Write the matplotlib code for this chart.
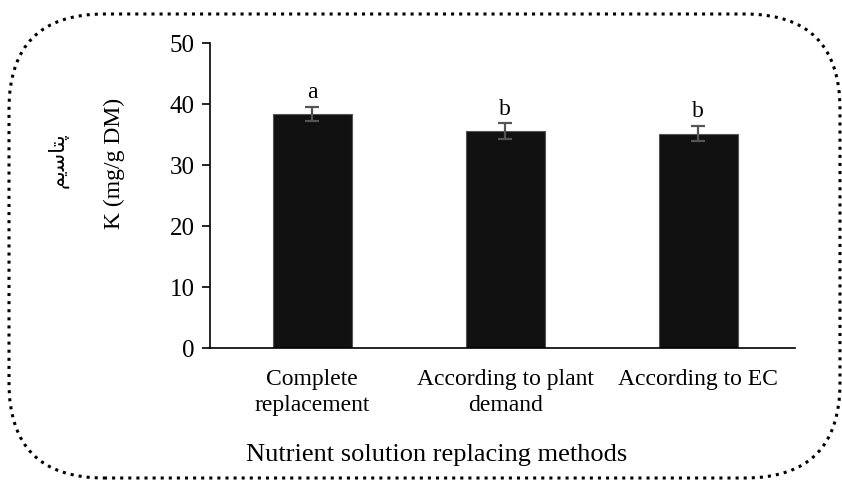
import matplotlib.pyplot as plt
from matplotlib.patches import FancyBboxPatch

methods = ["Complete\nreplacement", "According to plant\ndemand", "According to EC"]
k_content = [38.4, 35.6, 35.2]
k_err = [1.15, 1.3, 1.25]
letters = ["a", "b", "b"]
persian_label = "پتاسیم"
# matplotlib has no Arabic shaping: same word written in presentation forms, visual order
persian_shaped = "\uFEE2\uFBFE\uFEB3\uFE8E\uFE98\uFB58"

plt.rcParams['font.family'] = ['Liberation Serif', 'DejaVu Sans']

fig = plt.figure(figsize=(8.42, 4.82), dpi=100)
ax = fig.add_axes([0.2494, 0.2774, 0.6946, 0.6326])

x = range(len(methods))
ax.bar(x, k_content, width=0.41, color='#111111', edgecolor='#555555', linewidth=0.8, zorder=2)
ax.errorbar(x, k_content, yerr=k_err, fmt='none', ecolor='#555555', elinewidth=1.6,
            capsize=5, capthick=1.6, zorder=3)
for xi, v, e, lab in zip(x, k_content, k_err, letters):
    ax.text(xi, v + e + 0.6, lab, ha='center', va='bottom', fontsize=17)

ax.set_xlim(-0.53, 2.5)
ax.set_ylim(0, 50)
ax.set_yticks([0, 10, 20, 30, 40, 50])
ax.set_xticks(list(x))
ax.set_xticklabels(methods, fontsize=17, linespacing=1.3)
ax.tick_params(axis='x', length=0, pad=15)
ax.tick_params(axis='y', labelsize=18, length=6, width=1.2, direction='out', pad=5)
for side in ['top', 'right']:
    ax.spines[side].set_visible(False)
ax.spines['left'].set_linewidth(1.2)
ax.spines['bottom'].set_linewidth(1.2)

ax.set_ylabel("K (mg/g DM)", fontsize=17)
ax.yaxis.set_label_coords(-0.145, (348.3 - 163) / 305)
ax.set_xlabel("Nutrient solution replacing methods", fontsize=19, va='top')
ax.xaxis.set_label_coords(0.388, -0.315)

fig.text(0.069, 0.668, persian_shaped, rotation=90, ha='center', va='center',
         fontsize=15, family=['DejaVu Sans'])

# dotted rounded frame around the whole chart, in inches
frame = FancyBboxPatch((0.09, 0.04), 8.31, 4.64,
                       boxstyle="round,pad=0.0,rounding_size=0.95",
                       transform=fig.dpi_scale_trans, fill=False, linestyle=':',
                       linewidth=2.2, edgecolor='black', zorder=0)
fig.patches.append(frame)

fig.savefig("out.png", dpi=100)
